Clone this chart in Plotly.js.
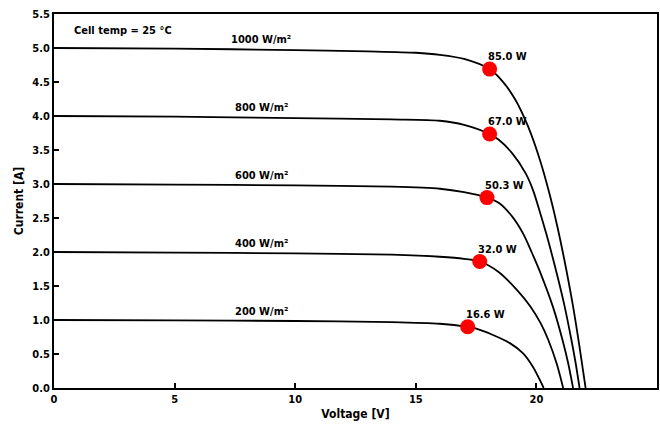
<!DOCTYPE html>
<html><head><meta charset="utf-8">
<script src="https://cdn.plot.ly/plotly-3.0.1.min.js"></script>
<style>html,body{margin:0;padding:0;background:#fff}</style>
</head><body>
<div id="chart" style="width:660px;height:427px"></div>
<script>
// Irradiance levels and I-V curve readings
const irradianceLabels = ["1000 W/m²", "800 W/m²", "600 W/m²", "400 W/m²", "200 W/m²"];

const v1000 = [0, 5, 10, 13, 15, 16, 17, 18.06, 18.57, 19.11, 19.65, 20.15, 20.54, 20.84, 21.15, 21.52, 21.79, 22.04];
const i1000 = [5.0, 4.99, 4.97, 4.95, 4.93, 4.90, 4.84, 4.69, 4.52, 4.25, 3.85, 3.35, 2.86, 2.42, 1.90, 1.20, 0.60, 0.0];

const v800 = [0, 5, 10, 14, 16, 17, 18.06, 18.44, 19.0, 19.55, 19.86, 20.16, 20.44, 20.84, 21.17, 21.45, 21.63, 21.79];
const i800 = [4.0, 3.99, 3.97, 3.95, 3.93, 3.87, 3.735, 3.65, 3.45, 3.16, 2.91, 2.57, 2.23, 1.69, 1.20, 0.71, 0.36, 0.0];

const v600 = [0, 5, 10, 14, 16, 17, 17.95, 18.45, 19.0, 19.45, 19.8, 20.17, 20.68, 21.08, 21.32, 21.52];
const i600 = [3.0, 2.99, 2.98, 2.96, 2.93, 2.88, 2.80, 2.72, 2.52, 2.27, 2.0, 1.69, 1.20, 0.71, 0.36, 0.0];

const v400 = [0, 5, 10, 14, 16, 17, 17.65, 18.42, 19.2, 19.75, 20.18, 20.49, 20.84, 21.11];
const i400 = [2.0, 1.99, 1.98, 1.96, 1.93, 1.90, 1.86, 1.71, 1.44, 1.20, 0.95, 0.71, 0.36, 0.0];

const v200 = [0, 5, 10, 14, 16, 17.15, 17.44, 18.2, 18.9, 19.45, 19.86, 20.21, 20.3];
const i200 = [1.0, 0.995, 0.985, 0.97, 0.945, 0.90, 0.88, 0.78, 0.66, 0.51, 0.31, 0.07, 0.0];

// Maximum power points
const mppV = [18.06, 18.06, 17.95, 17.65, 17.15];
const mppI = [4.69, 3.735, 2.80, 1.86, 0.90];
const mppLabels = ["85.0 W", "67.0 W", "50.3 W", "32.0 W", "16.6 W"];

const xTicks = [0, 5, 10, 15, 20, 25];
const yTicks = [0, 0.5, 1.0, 1.5, 2.0, 2.5, 3.0, 3.5, 4.0, 4.5, 5.0, 5.5];

const curves = [[v1000, i1000], [v800, i800], [v600, i600], [v400, i400], [v200, i200]];
const iscValues = [5.0, 4.0, 3.0, 2.0, 1.0];

const FONT = "DejaVu Sans Condensed, DejaVu Sans, sans-serif";

const traces = curves.map((c, k) => ({
  x: c[0], y: c[1], type: 'scatter', mode: 'lines',
  line: {color: '#000', width: 1.8, shape: 'spline', smoothing: 0.8},
  hoverinfo: 'skip', showlegend: false, name: irradianceLabels[k]
}));
traces.push({
  x: mppV, y: mppI, type: 'scatter', mode: 'markers',
  marker: {color: '#ff0000', size: 15, line: {width: 0}},
  showlegend: false, name: 'MPP'
});

const annotations = [];
irradianceLabels.forEach((t, k) => {
  annotations.push({x: 8.6, y: iscValues[k], xref: 'x', yref: 'y', text: t, showarrow: false,
    yanchor: 'bottom', yshift: 0, font: {family: FONT, size: 11, color: '#000', weight: 'bold'}});
});
mppLabels.forEach((t, k) => {
  annotations.push({x: mppV[k], y: mppI[k], xref: 'x', yref: 'y', text: t, showarrow: false,
    xanchor: 'left', yanchor: 'bottom', xshift: -4, yshift: 4,
    font: {family: FONT, size: 11, color: '#000', weight: 'bold'}});
});
annotations.push({x: 0.03, y: 0.955, xref: 'paper', yref: 'paper', text: 'Cell temp = 25 °C',
  showarrow: false, xanchor: 'left', yanchor: 'middle',
  font: {family: FONT, size: 11, color: '#000', weight: 'bold'}});

const layout = {
  width: 660, height: 427,
  margin: {l: 54, r: 3, t: 14, b: 39},
  paper_bgcolor: '#fff', plot_bgcolor: '#fff',
  font: {family: FONT, size: 11, color: '#000'},
  xaxis: {
    range: [0, 25], tickvals: xTicks, ticktext: xTicks.map(String),
    showgrid: false, zeroline: false, showline: true, linecolor: '#000', linewidth: 2, mirror: true,
    ticks: 'inside', ticklen: 5, tickwidth: 2, tickcolor: '#000',
    tickfont: {family: FONT, size: 11, weight: 'bold'},
    title: {text: 'Voltage [V]', standoff: 4, font: {family: FONT, size: 12, weight: 'bold'}}
  },
  yaxis: {
    range: [0, 5.5], tickvals: yTicks, ticktext: yTicks.map(v => v.toFixed(1)),
    showgrid: false, zeroline: false, showline: true, linecolor: '#000', linewidth: 2, mirror: true,
    ticks: 'inside', ticklen: 5, tickwidth: 2, tickcolor: '#000',
    tickfont: {family: FONT, size: 11, weight: 'bold'},
    title: {text: 'Current [A]', standoff: 6, font: {family: FONT, size: 12, weight: 'bold'}}
  },
  annotations: annotations
};

Plotly.newPlot('chart', traces, layout, {displayModeBar: false, staticPlot: true});
</script>
</body></html>
